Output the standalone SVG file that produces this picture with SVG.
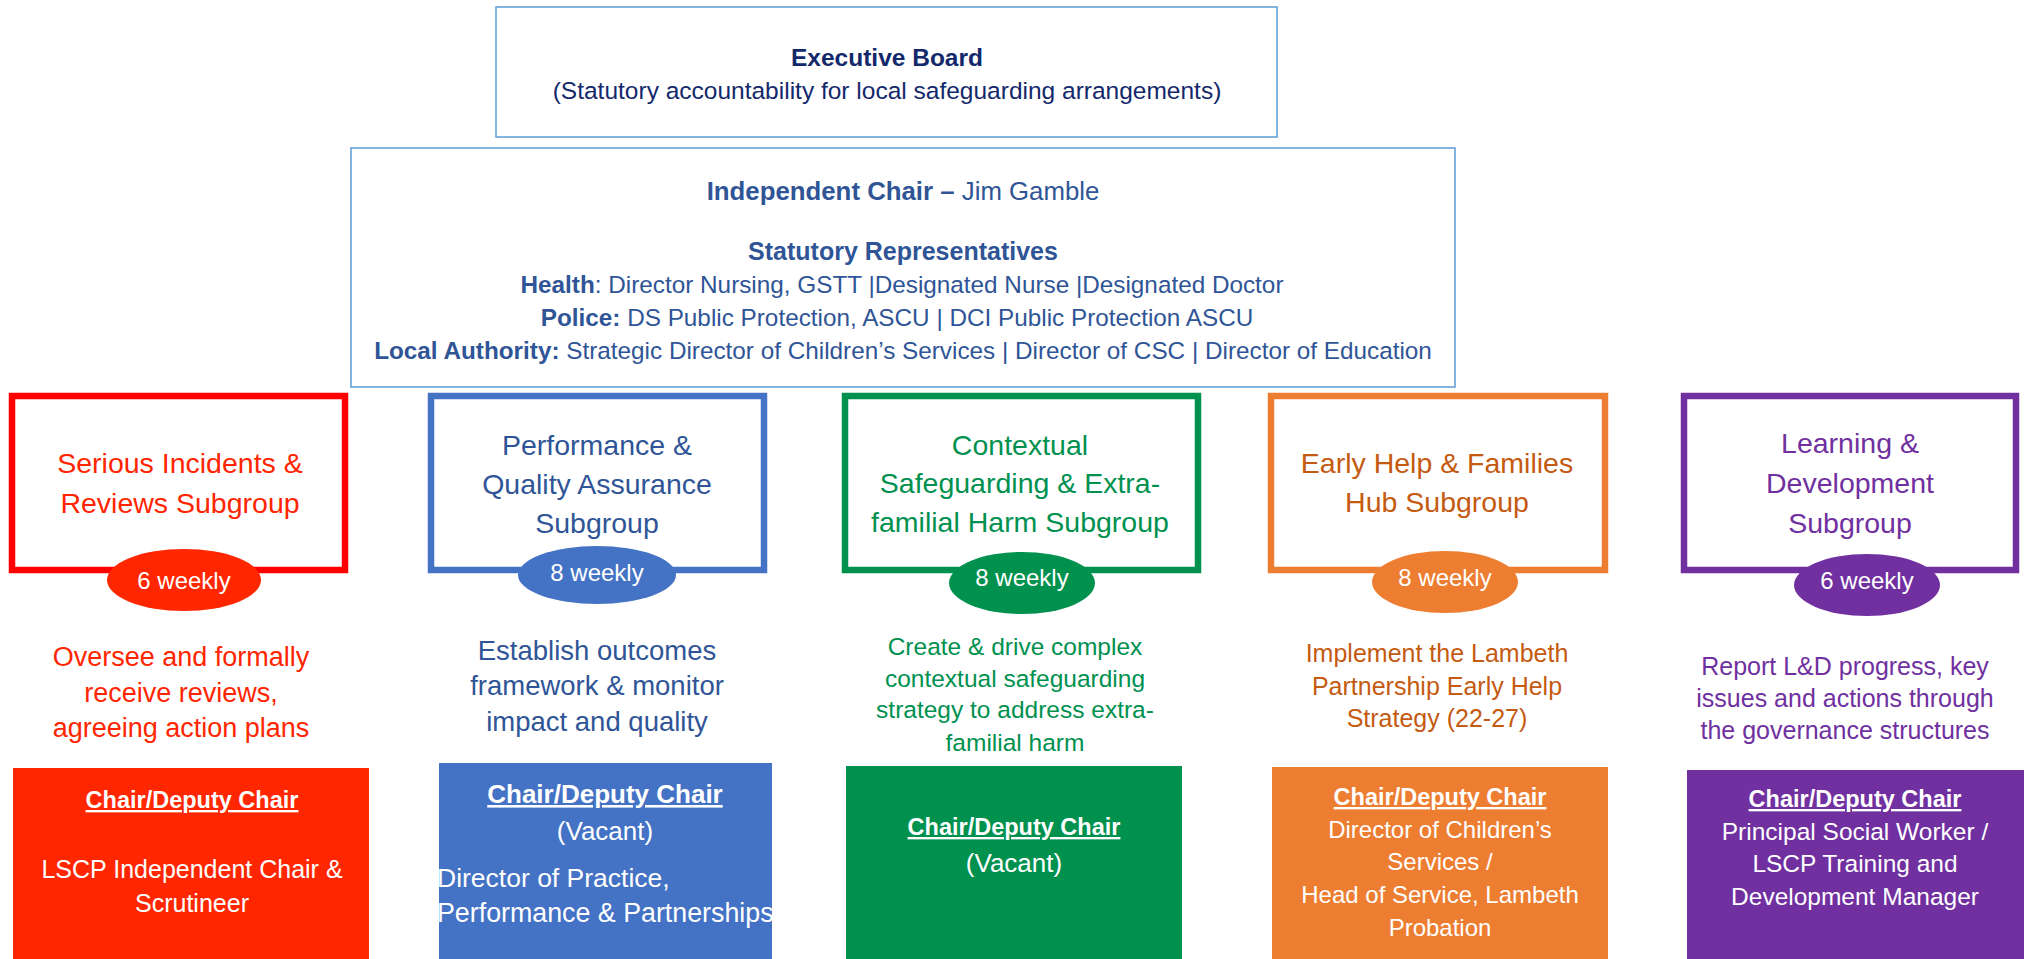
<svg xmlns="http://www.w3.org/2000/svg" width="2024" height="959" viewBox="0 0 2024 959">
<style>
text{font-family:"Liberation Sans",Arial,sans-serif;text-anchor:middle}
.b{font-weight:bold}
.top{fill:none;stroke:#5B9BD5;stroke-width:1.5}
.sg{fill:none;stroke-width:6.5}
.w{fill:#fff}
.u{text-decoration:underline}
.t{font-size:28.5px}
.e{font-size:24px;fill:#fff}
.navy{fill:#13296B}
.dblue{fill:#2F5597}
</style>
<defs>
<clipPath id="clipBlue"><rect x="439" y="763" width="333" height="196"/></clipPath>
</defs>
<rect width="2024" height="959" fill="#fff"/>

<g id="executive-board">
<rect class="top" x="496" y="7" width="781" height="130"/>
<text class="b navy" x="887" y="66" font-size="24.5">Executive Board</text>
<text class="navy" x="887" y="99" font-size="24.5">(Statutory accountability for local safeguarding arrangements)</text>
</g>

<g id="independent-chair">
<rect class="top" x="351" y="148" width="1104" height="239"/>
<g class="dblue" font-size="24.3">
<text x="903" y="200" font-size="25.8"><tspan class="b">Independent Chair –</tspan> Jim Gamble</text>
<text class="b" x="903" y="260" font-size="25">Statutory Representatives</text>
<text x="902" y="293"><tspan class="b">Health</tspan>: Director Nursing, GSTT |Designated Nurse |Designated Doctor</text>
<text x="897" y="326"><tspan class="b">Police:</tspan> DS Public Protection, ASCU | DCI Public Protection ASCU</text>
<text x="903" y="359"><tspan class="b">Local Authority:</tspan> Strategic Director of Children’s Services | Director of CSC | Director of Education</text>
</g>
</g>

<g id="connectors"></g>

<!-- Red -->
<g id="serious-incidents">
<rect class="sg" x="12" y="396" width="333" height="174" stroke="#FF0000"/>
<g fill="#FF2500">
<text class="t" x="180" y="473">Serious Incidents &amp;</text>
<text class="t" x="180" y="513">Reviews Subgroup</text>
</g>
<ellipse cx="184" cy="580" rx="77" ry="31" fill="#FF2600"/>
<text class="e" x="184" y="589">6 weekly</text>
<g fill="#FF2500" font-size="27">
<text x="181" y="666">Oversee and formally</text>
<text x="181" y="702">receive reviews,</text>
<text x="181" y="737">agreeing action plans</text>
</g>
</g>
<g id="serious-incidents-chair">
<rect x="13" y="768" width="356" height="191" fill="#FF2600"/>
<text class="b u w" x="192" y="808" font-size="23.5">Chair/Deputy Chair</text>
<text class="w" x="192" y="878" font-size="25">LSCP Independent Chair &amp;</text>
<text class="w" x="192" y="912" font-size="25">Scrutineer</text>
</g>

<!-- Blue -->
<g id="performance-qa">
<rect class="sg" x="431" y="396" width="333" height="174" stroke="#4472C4"/>
<g fill="#2F5597">
<text class="t" x="597" y="455">Performance &amp;</text>
<text class="t" x="597" y="494">Quality Assurance</text>
<text class="t" x="597" y="533">Subgroup</text>
</g>
<ellipse cx="597" cy="575" rx="79" ry="29" fill="#4472C4"/>
<text class="e" x="597" y="581">8 weekly</text>
<g fill="#2F5597" font-size="27.5">
<text x="597" y="660">Establish outcomes</text>
<text x="597" y="695">framework &amp; monitor</text>
<text x="597" y="731">impact and quality</text>
</g>
</g>
<g id="performance-qa-chair">
<rect x="439" y="763" width="333" height="196" fill="#4472C4"/>
<text class="b u w" x="605" y="803" font-size="26">Chair/Deputy Chair</text>
<text class="w" x="605" y="840" font-size="26">(Vacant)</text>
<g clip-path="url(#clipBlue)">
<text class="w" x="437" y="887" font-size="26.5" style="text-anchor:start">Director of Practice,</text>
<text class="w" x="437" y="922" font-size="26.8" style="text-anchor:start">Performance &amp; Partnerships</text>
</g>
</g>

<!-- Green -->
<g id="contextual-safeguarding">
<rect class="sg" x="845" y="396" width="353" height="174" stroke="#00914F"/>
<g fill="#00914F">
<text class="t" x="1020" y="455">Contextual</text>
<text class="t" x="1020" y="493">Safeguarding &amp; Extra-</text>
<text class="t" x="1020" y="532">familial Harm Subgroup</text>
</g>
<ellipse cx="1022" cy="583" rx="73" ry="31" fill="#00914F"/>
<text class="e" x="1022" y="586">8 weekly</text>
<g fill="#00914F" font-size="24.5">
<text x="1015" y="655">Create &amp; drive complex</text>
<text x="1015" y="687">contextual safeguarding</text>
<text x="1015" y="718">strategy to address extra-</text>
<text x="1015" y="751">familial harm</text>
</g>
</g>
<g id="contextual-safeguarding-chair">
<rect x="846" y="766" width="336" height="193" fill="#00914F"/>
<text class="b u w" x="1014" y="835" font-size="23.5">Chair/Deputy Chair</text>
<text class="w" x="1014" y="872" font-size="26">(Vacant)</text>
</g>

<!-- Orange -->
<g id="early-help">
<rect class="sg" x="1271" y="396" width="334" height="174" stroke="#ED7D31"/>
<g fill="#C55A11">
<text class="t" x="1437" y="473">Early Help &amp; Families</text>
<text class="t" x="1437" y="512">Hub Subgroup</text>
</g>
<ellipse cx="1445" cy="582" rx="73" ry="31" fill="#ED7D31"/>
<text class="e" x="1445" y="586">8 weekly</text>
<g fill="#C55A11" font-size="25">
<text x="1437" y="662">Implement the Lambeth</text>
<text x="1437" y="695">Partnership Early Help</text>
<text x="1437" y="727">Strategy (22-27)</text>
</g>
</g>
<g id="early-help-chair">
<rect x="1272" y="767" width="336" height="192" fill="#ED7D31"/>
<text class="b u w" x="1440" y="805" font-size="23.5">Chair/Deputy Chair</text>
<g class="w" font-size="24">
<text x="1440" y="838">Director of Children’s</text>
<text x="1440" y="870">Services /</text>
<text x="1440" y="903">Head of Service, Lambeth</text>
<text x="1440" y="936">Probation</text>
</g>
</g>

<!-- Purple -->
<g id="learning-development">
<rect class="sg" x="1684" y="396" width="332" height="174" stroke="#7030A0"/>
<g fill="#7030A0">
<text class="t" x="1850" y="453">Learning &amp;</text>
<text class="t" x="1850" y="493">Development</text>
<text class="t" x="1850" y="533">Subgroup</text>
</g>
<ellipse cx="1867" cy="585" rx="73" ry="31" fill="#7030A0"/>
<text class="e" x="1867" y="589">6 weekly</text>
<g fill="#7030A0" font-size="25">
<text x="1845" y="675">Report L&amp;D progress, key</text>
<text x="1845" y="707">issues and actions through</text>
<text x="1845" y="739">the governance structures</text>
</g>
</g>
<g id="learning-development-chair">
<rect x="1687" y="770" width="337" height="189" fill="#7030A0"/>
<text class="b u w" x="1855" y="807" font-size="23.5">Chair/Deputy Chair</text>
<g class="w" font-size="24.5">
<text x="1855" y="840">Principal Social Worker /</text>
<text x="1855" y="872">LSCP Training and</text>
<text x="1855" y="905">Development Manager</text>
</g>
</g>
</svg>
